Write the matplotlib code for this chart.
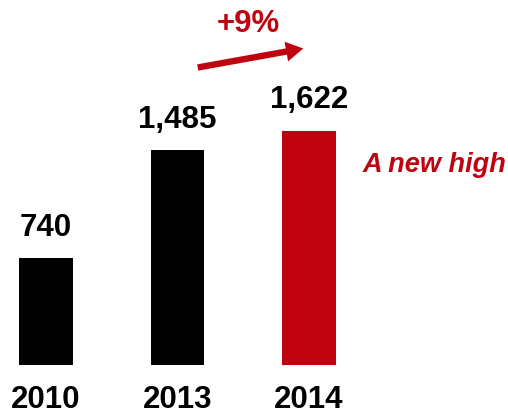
import matplotlib
matplotlib.use("Agg")
import matplotlib.pyplot as plt
from matplotlib.patches import FancyArrowPatch

years = ["2010", "2013", "2014"]
values = [740, 1485, 1622]
value_labels = ["740", "1,485", "1,622"]
bar_colors = ["#000000", "#000000", "#BF0410"]
growth_label = "+9%"
note_label = "A new high"

RED = "#BF0410"
W, H, DPI = 508, 415, 100

plt.rcParams["font.family"] = ["Liberation Sans", "DejaVu Sans"]

fig = plt.figure(figsize=(W / DPI, H / DPI), dpi=DPI)
ax = fig.add_axes([0, 50 / H, 1, 1 - 50 / H])

x = list(range(len(years)))
ax.bar(x, values, width=0.41, color=bar_colors)

ax.set_xlim(-46 / 131.5, (W - 46) / 131.5)
ax.set_ylim(0, 365 / 0.1445)

for xi, v, lab in zip(x, values, value_labels):
    ax.annotate(lab, (xi, v), xytext=(0, 11), textcoords="offset points",
                ha="center", va="bottom", fontsize=22.5, fontweight="bold",
                color="black")

ax.set_xticks(x)
ax.set_xticklabels(years, fontsize=22.5, fontweight="bold")
ax.tick_params(axis="x", length=0, pad=14.5)
ax.set_yticks([])
for s in ax.spines.values():
    s.set_visible(False)

# growth arrow and label
arrow = FancyArrowPatch((195, H - 68), (306, H - 48),
                        transform=None,
                        arrowstyle="simple,head_length=0.62,head_width=0.72,tail_width=0.23",
                        mutation_scale=20, color=RED, lw=0)
fig.patches.append(arrow)
fig.text(248 / W, 1 - 24 / H, growth_label, ha="center", va="center",
         fontsize=22.5, fontweight="bold", color=RED)

fig.text(363 / W, 1 - 165 / H, note_label, ha="left", va="center",
         fontsize=19.5, fontweight="bold", style="italic", color=RED)

fig.savefig("out.png", dpi=DPI)
